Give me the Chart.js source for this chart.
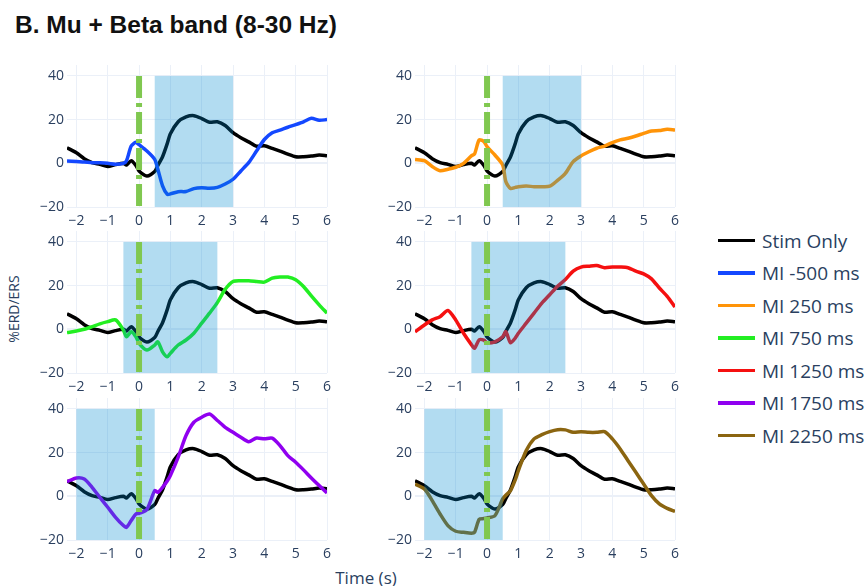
<!DOCTYPE html>
<html>
<head>
<meta charset="utf-8">
<script src="https://cdn.jsdelivr.net/npm/chart.js@4.4.1/dist/chart.umd.min.js"></script>
<style>
  body { margin: 0; width: 866px; height: 586px; background: #fff; position: relative; overflow: hidden; font-family: "Open Sans", sans-serif; color: #2a3f5f; }
  .title { position: absolute; left: 15px; top: 13px; font: bold 24.5px "Liberation Sans", Arial, sans-serif; line-height: 1; color: #111; white-space: nowrap; }
  .panel { position: absolute; }
  .ytitle { position: absolute; left: 13px; top: 309px; transform: translate(-50%, -50%) rotate(-90deg); font-size: 14px; white-space: nowrap; }
  .xtitle { position: absolute; left: 366px; top: 577px; transform: translate(-50%, -50%); font-size: 17px; white-space: nowrap; }
  .leg-item { position: absolute; left: 718px; height: 24px; display: flex; align-items: center; white-space: nowrap; font-size: 19px; }
  .leg-line { width: 37px; height: 3.5px; margin-right: 7px; }
</style>
</head>
<body>
<div class="title">B. Mu + Beta band (8-30 Hz)</div>
<div class="ytitle">%ERD/ERS</div>
<div class="xtitle">Time (s)</div>
<div id="panels"></div>
<div id="legend"></div>

<script>
// ---- data ----
const time = [-2.3, -2, -1.75, -1.5, -1.25, -1, -0.75, -0.5, -0.4, -0.25, -0.1, 0, 0.25, 0.5, 0.6, 0.75, 0.9, 1,
  1.25, 1.5, 1.75, 2, 2.25, 2.5, 2.75, 3, 3.25, 3.5, 3.75, 4, 4.25, 4.5, 4.75, 5, 5.25, 5.5, 5.75, 6];

const stimOnly = [7.1, 4.8, 2.1, 0.3, -0.5, -1.5, -0.6, 0, -0.8, 1.2, -1.0, -3.5, -5.8, -3.8, -1.0, 3.0, 9.0, 13.5,
  19.0, 21.2, 21.8, 20.5, 18.8, 19.0, 17.3, 14.0, 11.7, 9.8, 7.8, 8.0, 6.8, 5.6, 4.2, 3.0, 3.0, 3.3, 3.8, 3.5];

const miMinus500 = [1.1, 0.8, 0.6, 0.3, 0.2, 0, -0.4, 0, 1.2, 7.9, 9.6, 8.5, 5.6, 1.8, -2.7, -10.3, -14.2, -14.0,
  -13.0, -12.9, -11.6, -11.2, -11.4, -11.0, -9.5, -7.3, -3.5, 0.3, 5.6, 10.9, 14.0, 15.2, 16.5, 17.7, 19.0, 20.6, 19.7, 20.0];

const mi250 = [1.8, 1.2, -1.5, -3.4, -2.7, -1.8, 0, 3.4, 4.3, 10.7, 9.9, 7.6, 3.8, -0.8, -8.4, -11.5, -11.0, -10.7,
  -10.4, -10.7, -10.7, -10.5, -7.8, -4.6, 0.8, 3.4, 5.3, 6.9, 7.9, 9.5, 10.7, 11.5, 12.5, 13.7, 14.8, 15.0, 15.6, 15.3];

const mi750 = [-1.5, -0.8, 0, 1.2, 2.5, 3.5, 4.3, -0.3, -3.4, -1.1, -3.4, -6.4, -9.5, -7.2, -5.7, -10.3, -12.6, -11.0,
  -7.2, -4.9, -1.8, 2.8, 7.4, 12.2, 18.3, 21.9, 22.2, 22.2, 21.9, 21.6, 23.4, 23.9, 23.9, 22.7, 19.6, 15.3, 11.2, 7.4];

const mi1250 = [-1.1, 2.0, 4.3, 5.8, 8.6, 4.3, -1.8, -7.0, -8.7, -4.8, -5.0, -6.2, -5.7, -3.4, -1.1, -6.2, -4.0, -1.8,
  2.8, 7.4, 12.0, 15.8, 19.7, 22.8, 26.6, 28.5, 28.9, 29.2, 28.2, 28.5, 28.5, 28.2, 26.6, 25.4, 23.1, 18.9, 15.1, 10.2];

const mi1750 = [6.7, 8.4, 7.9, 4.1, -0.5, -5.0, -9.6, -13.4, -14.2, -11.1, -8.1, -7.8, -6.0, 2.6, 1.8, 4.1, 7.0, 9.5,
  17.9, 27.8, 33.9, 36.2, 37.7, 34.7, 31.6, 29.3, 27.0, 25.0, 26.7, 26.3, 26.6, 23.2, 18.6, 15.6, 12.1, 8.4, 4.9, 1.5];

const mi2250 = [5.6, 3.4, -2.0, -8.1, -13.4, -16.0, -16.5, -16.9, -16.5, -10.5, -10.2, -9.9, -8.9, -1.2, 0.5, 2.6, 7.5, 11.8,
  20.9, 26.3, 28.2, 29.6, 30.5, 30.4, 29.3, 29.6, 29.3, 29.3, 29.6, 26.3, 21.7, 16.3, 11.0, 5.6, 0.3, -3.5, -5.5, -6.9];

const seriesNames = ["Stim Only", "MI -500 ms", "MI 250 ms", "MI 750 ms", "MI 1250 ms", "MI 1750 ms", "MI 2250 ms"];
const seriesColors = ["#000000", "#1448ff", "#ff9408", "#22ee22", "#f51010", "#9000f0", "#8b6510"];
const miSeries = [miMinus500, mi250, mi750, mi1250, mi1750, mi2250];

// shaded MI window per panel (s)
const windows = [[0.5, 3], [0.5, 3], [-0.5, 2.5], [-0.5, 2.5], [-2, 0.5], [-2, 0.5]];
const stimOnset = 0;
const xTicks = [-2, -1, 0, 1, 2, 3, 4, 5, 6];
const yTicks = [-20, 0, 20, 40];

// ---- layout ----
const plotLefts = [67, 415];
const plotTops = [65, 231, 398];
const plotW = 260, plotH = 142;
const padL = 45, padT = 6, padR = 12, padB = 24;

const fmt = v => String(v).replace("-", "\u2212");

const shapesPlugin = {
  id: "shapes",
  afterDatasetsDraw(chart, args, opts) {
    const { ctx, scales: { x, y } } = chart;
    const top = y.getPixelForValue(40), bot = y.getPixelForValue(-20);
    ctx.save();
    // MI window
    const x0 = x.getPixelForValue(opts.win[0]), x1 = x.getPixelForValue(opts.win[1]);
    ctx.fillStyle = "rgba(0,140,210,0.3)";
    ctx.fillRect(x0, top, x1 - x0, bot - top);
    // stim onset
    const xs = x.getPixelForValue(stimOnset);
    ctx.strokeStyle = "#80c850";
    ctx.lineWidth = 6;
    ctx.setLineDash([22, 5, 4, 5]);
    ctx.beginPath();
    ctx.moveTo(xs, top);
    ctx.lineTo(xs, bot);
    ctx.stroke();
    ctx.restore();
  }
};

const tickFont = { family: "Open Sans", size: 14 };
const panels = document.getElementById("panels");

miSeries.forEach((vals, i) => {
  const col = i % 2, row = Math.floor(i / 2);
  const cv = document.createElement("canvas");
  const w = padL + plotW + padR, h = padT + plotH + padB;
  cv.width = w; cv.height = h;
  cv.className = "panel";
  cv.style.left = (plotLefts[col] - padL) + "px";
  cv.style.top = (plotTops[row] - padT) + "px";
  cv.style.width = w + "px"; cv.style.height = h + "px";
  panels.appendChild(cv);

  new Chart(cv, {
    type: "line",
    data: {
      datasets: [
        {
          data: time.map((t, k) => ({ x: t, y: vals[k] })),
          borderColor: seriesColors[i + 1],
          borderWidth: 3.5,
          pointRadius: 0,
          tension: 0.25
        },
        {
          data: time.map((t, k) => ({ x: t, y: stimOnly[k] })),
          borderColor: seriesColors[0],
          borderWidth: 3.5,
          pointRadius: 0,
          tension: 0.25
        }
      ]
    },
    options: {
      responsive: false,
      animation: false,
      devicePixelRatio: 1,
      layout: { padding: { top: padT, right: padR, left: 0, bottom: 0 } },
      plugins: {
        legend: { display: false },
        tooltip: { enabled: false },
        shapes: { win: windows[i] }
      },
      scales: {
        x: {
          type: "linear",
          min: -2.3, max: 6,
          afterBuildTicks: s => { s.ticks = xTicks.map(v => ({ value: v })); },
          afterFit: s => { s.height = padB; s.paddingLeft = 0; s.paddingRight = 0; },
          grid: { color: "#EBF0F8", lineWidth: 1, drawTicks: false },
          border: { display: false },
          ticks: { color: "#2a3f5f", font: tickFont, padding: 6, maxRotation: 0, autoSkip: false, callback: v => fmt(v) }
        },
        y: {
          min: -20, max: 45,
          afterBuildTicks: s => { s.ticks = yTicks.map(v => ({ value: v })); },
          afterFit: s => { s.width = padL; s.paddingTop = 0; s.paddingBottom = 0; },
          grid: { color: "#EBF0F8", lineWidth: c => (c.tick && c.tick.value === 0 ? 2 : 1), drawTicks: false },
          border: { display: false },
          ticks: { color: "#2a3f5f", font: tickFont, padding: 3, callback: v => fmt(v) }
        }
      }
    },
    plugins: [shapesPlugin]
  });
});

// legend
const legend = document.getElementById("legend");
seriesNames.forEach((name, i) => {
  const item = document.createElement("div");
  item.className = "leg-item";
  item.style.top = (240.7 + i * 32.5 - 12) + "px";
  item.innerHTML = `<span class="leg-line" style="background:${seriesColors[i]}"></span><span>${name}</span>`;
  legend.appendChild(item);
});
</script>
</body>
</html>
